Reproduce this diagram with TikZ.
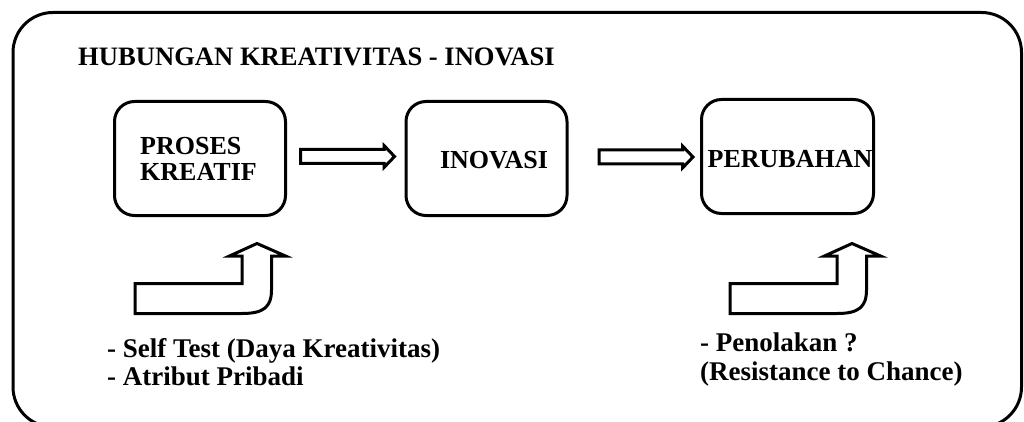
\documentclass[tikz,border=0pt]{standalone}
\usepackage{fontspec}
\setmainfont{Liberation Serif}
\newfontfamily\hfont{Liberation Serif}
\newfontfamily\lfont{Liberation Serif}
\usetikzlibrary{calc}
\tikzset{
  frame/.style={draw, line width=3pt, rounded corners=40pt},
  box/.style={draw, line width=3pt, rounded corners=20pt, minimum height=114pt, inner sep=0pt},
  hlbl/.style={inner sep=0pt, align=left, font=\hfont\bfseries\fontsize{26}{26}\selectfont},
  tlbl/.style={inner sep=0pt, anchor=base west, font=\hfont\bfseries\fontsize{26.6}{27}\selectfont},
  llbl/.style={inner sep=0pt, anchor=base west, font=\lfont\bfseries\fontsize{27}{28}\selectfont},
  arrowline/.style={draw, line width=3pt},
  straight/.pic={\draw[arrowline] (0,-7) -- (83.5,-7) -- (83.5,-11) -- (94,0) -- (83.5,11) -- (83.5,7) -- (0,7) -- cycle;},
  bent/.pic={\draw[arrowline] (-122,40) -- (-15,40) -- (-15,12.5) -- (-27.5,12.5) -- (0,0) -- (28.5,12.5) -- (14.5,12.5) -- (14.5,46.5) .. controls (14.5,64) and (6,70) .. (-15,70) -- (-122,70) -- cycle;}
}
\begin{document}
\begin{tikzpicture}[x=1pt,y=-1pt]
\useasboundingbox (0,0) rectangle (1024,422);
\fill[white] (0,0) rectangle (1024,422);
\draw[frame] (13,12.5) rectangle (1021.5,427);
\node[tlbl] (title) at (78,66) {HUBUNGAN KREATIVITAS - INOVASI};
\node[box, minimum width=171pt] (b1) at (200,158.5) {};
\node[box, minimum width=161pt] (b2) at (486.5,158.5) {};
\node[box, minimum width=172pt] (b3) at (787.5,156.5) {};
\node[hlbl] (t1) at ($(b1)+(-1.5,0)$) {PROSES\\KREATIF};
\node[hlbl] (t2) at ($(b2)+(7.5,1.5)$) {INOVASI};
\node[hlbl] (t3) at ($(b3)+(2.5,3)$) {PERUBAHAN};
\pic (a1) at ($(b1.east)+(13.5,-2)$) {straight};
\pic (a2) at ($(b2.east)+(30.5,-1.5)$) {straight};
\pic (c1) at ($(b1.south)+(57,26.5)$) {bent};
\pic (c2) at ($(b3.south)+(64.5,28.5)$) {bent};
\node[llbl] (s1) at (107,357) {- Self Test (Daya Kreativitas)};
\node[llbl] (s2) at (107,385) {- Atribut Pribadi};
\node[llbl] (r1) at (700,351) {- Penolakan ?};
\node[llbl] (r2) at (700,380) {(Resistance to Chance)};
\end{tikzpicture}
\end{document}
